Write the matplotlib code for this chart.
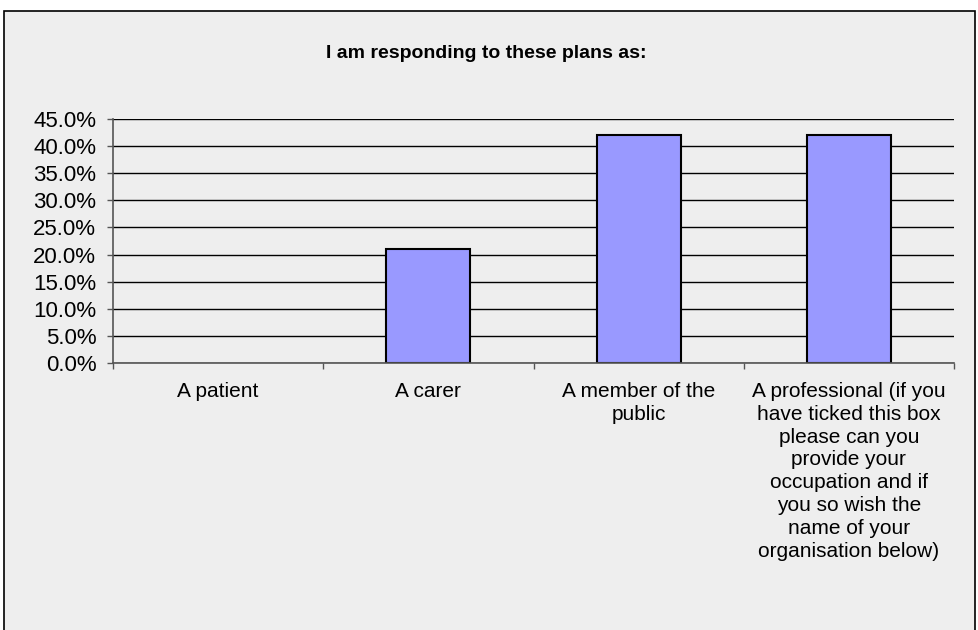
import matplotlib
matplotlib.use("Agg")
import matplotlib.pyplot as plt
from matplotlib.patches import Rectangle
from matplotlib.ticker import FuncFormatter, FixedLocator

categories = [
    "A patient",
    "A carer",
    "A member of the\npublic",
    "A professional (if you\nhave ticked this box\nplease can you\nprovide your\noccupation and if\nyou so wish the\nname of your\norganisation below)",
]
values = [0.0, 21.1, 42.1, 42.1]
yticks = [0, 5, 10, 15, 20, 25, 30, 35, 40, 45]
title = "I am responding to these plans as:"

W, H = 979, 630
fig = plt.figure(figsize=(W / 100, H / 100), dpi=100)
fig.patch.set_facecolor("white")
bg = Rectangle((4 / W, -0.01), (975 - 4) / W, (H - 11) / H + 0.01,
               transform=fig.transFigure, facecolor="#eeeeee",
               edgecolor="black", linewidth=1.2, zorder=-5)
fig.patches.append(bg)

font = ["Liberation Sans", "DejaVu Sans"]

left, right, top, bottom = 113, 954, 119, 363
ax = fig.add_axes([left / W, 1 - bottom / H, (right - left) / W, (bottom - top) / H])
ax.set_zorder(1)
ax.set_facecolor("none")

x = list(range(len(categories)))
edges = ["black" if v > 0 else "none" for v in values]
ax.bar(x, values, width=0.4, color="#9999ff", edgecolor=edges, linewidth=1.5, zorder=2)

ax.set_xlim(-0.5, len(categories) - 0.5)
ax.set_ylim(0, 45)
ax.yaxis.set_major_locator(FixedLocator(yticks))
ax.yaxis.set_major_formatter(FuncFormatter(lambda v, p: f"{v:.1f}%"))
ax.grid(axis="y", color="black", linewidth=1.0, zorder=1)
ax.set_axisbelow(True)

ax.set_xticks(x)
ax.set_xticklabels(categories, fontfamily=font, fontsize=15, linespacing=1.26, va="top")
ax.set_xticks([i - 0.5 for i in range(len(categories) + 1)], minor=True)
ax.tick_params(axis="x", which="major", length=0, pad=13.5)
ax.tick_params(axis="x", which="minor", length=4.5, color="#555555", width=1)
ax.tick_params(axis="y", which="major", length=4.5, color="#555555", width=1, pad=7.5, labelsize=16)
for lab in ax.get_yticklabels():
    lab.set_fontfamily(font)

for s in ["top", "right"]:
    ax.spines[s].set_visible(False)
for s in ["left", "bottom"]:
    ax.spines[s].set_color("#555555")
    ax.spines[s].set_linewidth(1.2)
    ax.spines[s].set_zorder(4)

fig.text(486 / W, 1 - 53 / H, title, ha="center", va="center",
         fontfamily=font, fontsize=14, fontweight="bold")

fig.savefig("out.png", dpi=100)
